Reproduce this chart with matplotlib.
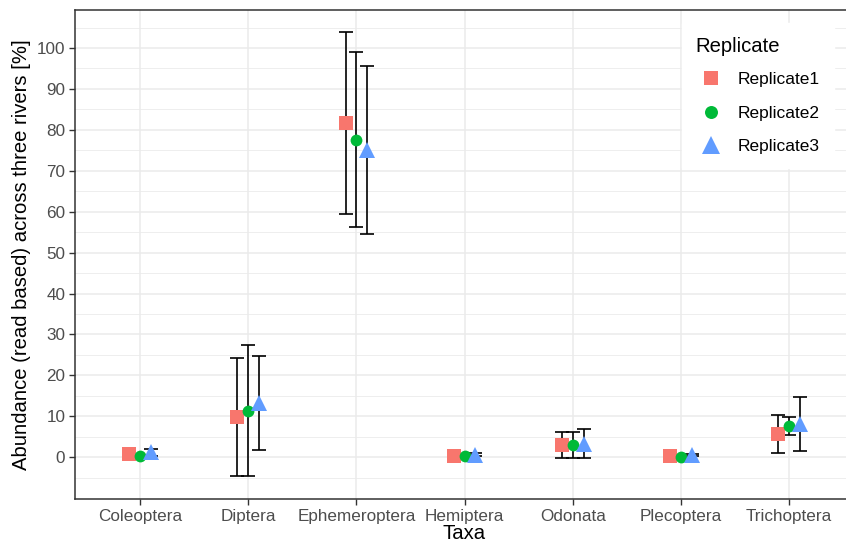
import numpy as np
import matplotlib
matplotlib.use("Agg")
import matplotlib.pyplot as plt
from matplotlib.ticker import MultipleLocator

plt.rcParams['font.family'] = ['Liberation Sans', 'DejaVu Sans']

taxa = ['Coleoptera', 'Diptera', 'Ephemeroptera', 'Hemiptera',
        'Odonata', 'Plecoptera', 'Trichoptera']
replicates = ['Replicate1', 'Replicate2', 'Replicate3']

# mean abundance (%) per taxon for each replicate
rep1_mean = [0.7, 9.8, 81.6, 0.4, 2.9, 0.3, 5.7]
rep2_mean = [0.2, 11.4, 77.6, 0.3, 2.9, 0.0, 7.7]
rep3_mean = [1.2, 13.2, 75.0, 0.6, 3.3, 0.5, 8.1]

# standard deviation across the three rivers
rep1_sd = [0.3, 14.5, 22.2, 0.2, 3.2, 0.2, 4.6]
rep2_sd = [0.2, 16.1, 21.4, 0.2, 3.2, 0.1, 2.2]
rep3_sd = [0.8, 11.5, 20.5, 0.3, 3.5, 0.2, 6.7]

means = [rep1_mean, rep2_mean, rep3_mean]
sds = [rep1_sd, rep2_sd, rep3_sd]
colors = ['#F8766D', '#00BA38', '#619CFF']
markers = ['s', 'o', '^']
msizes = [9.5, 8.5, 11.5]
offsets = [-0.1, 0.0, 0.1]

fig = plt.figure(figsize=(8.46, 5.52), dpi=100)
ax = fig.add_axes([0.0887, 0.0955, 0.9208, 0.8864])

x = np.arange(len(taxa))

# error bars first, points on top
for i in range(3):
    ax.errorbar(x + offsets[i], means[i], yerr=sds[i], fmt='none',
                ecolor='black', elinewidth=1.2, capsize=4.7, capthick=1.2,
                zorder=3)
for i in range(3):
    ax.plot(x + offsets[i], means[i], linestyle='none', marker=markers[i],
            markersize=msizes[i], color=colors[i], markeredgewidth=0,
            label=replicates[i], zorder=4)

ax.set_xlim(-0.6, 6.6)
ax.set_ylim(-10.3, 109.3)
ax.set_xticks(x)
ax.set_xticklabels(taxa)
ax.yaxis.set_major_locator(MultipleLocator(10))
ax.set_yticks(np.arange(-5, 110, 10), minor=True)
ax.set_yticks(np.arange(0, 101, 10))

ax.grid(which='major', color='#EBEBEB', linewidth=1.1, zorder=0)
ax.grid(which='minor', axis='y', color='#EBEBEB', linewidth=0.6, zorder=0)
ax.set_axisbelow(True)
for s in ax.spines.values():
    s.set_color('#333333')
    s.set_linewidth(1.1)

ax.tick_params(axis='both', which='major', labelsize=12.3, labelcolor='#4D4D4D',
               color='#333333', length=4, width=1.0, pad=3)
ax.tick_params(axis='both', which='minor', length=0)

ax.set_xlabel('Taxa', fontsize=14.6, labelpad=0)
ax.set_ylabel('Abundance (read based) across three rivers [%]', fontsize=14.6,
              labelpad=4)

leg = ax.legend(title='Replicate', loc='upper left',
                bbox_to_anchor=(673 / 846, 1 - 14 / 552),
                bbox_transform=fig.transFigure, frameon=True, fancybox=False,
                fontsize=12.5, title_fontsize=14.6, borderpad=0.8,
                labelspacing=1.05, handlelength=1.75, handletextpad=0.7,
                markerscale=1.1)
leg.get_frame().set_facecolor('white')
leg.get_frame().set_edgecolor('white')
leg.get_frame().set_alpha(1)
leg._legend_box.align = 'left'
leg._legend_box.sep = 12

fig.savefig('out.png', dpi=100)
